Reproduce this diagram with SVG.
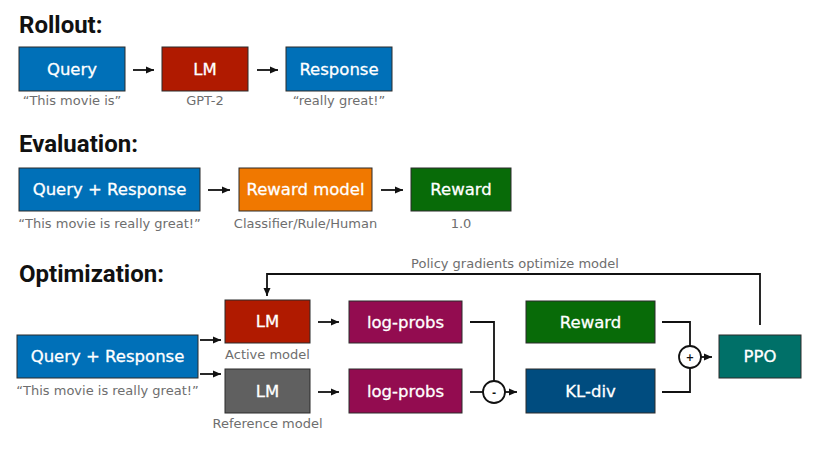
<svg xmlns="http://www.w3.org/2000/svg" width="819" height="454" viewBox="0 0 819 454">
<defs>
<style>
.title{font-family:Roboto,"Liberation Sans",sans-serif;font-weight:700;font-size:24px;fill:#111}
.box{stroke:#2b2b2b;stroke-width:1}
.nt{font-family:"DejaVu Sans",sans-serif;font-size:16.5px;fill:#fff;stroke:#fff;stroke-width:0.3;text-anchor:middle}
.sub{font-family:"DejaVu Sans",sans-serif;font-size:13px;fill:#6e6e6e;text-anchor:middle}
.ln{stroke:#111;stroke-width:1.8;fill:none}
.op{font-family:"DejaVu Sans",sans-serif;font-size:10px;font-weight:bold;fill:#111;text-anchor:middle}
</style>
<marker id="ah" markerWidth="9" markerHeight="9" refX="8" refY="4.5" orient="auto" markerUnits="userSpaceOnUse">
<path d="M0,1 L8,4.5 L0,8 z" fill="#111"/>
</marker>
</defs>
<rect width="819" height="454" fill="#fff"/>

<text class="title" x="19" y="33">Rollout:</text>
<text class="title" x="19" y="152">Evaluation:</text>
<text class="title" x="19" y="282">Optimization:</text>

<g id="rollout-query"><rect class="box" x="19" y="47" width="106" height="44" fill="#0070b8"/><text class="nt" x="72" y="75">Query</text><text class="sub" x="72" y="105">“This movie is”</text></g>
<g id="rollout-lm"><rect class="box" x="162" y="47" width="86" height="44" fill="#b01a00"/><text class="nt" x="205" y="75">LM</text><text class="sub" x="205" y="105">GPT-2</text></g>
<g id="rollout-response"><rect class="box" x="286" y="47" width="106" height="44" fill="#0070b8"/><text class="nt" x="339" y="75">Response</text><text class="sub" x="339" y="105">“really great!”</text></g>

<g id="eval-qr"><rect class="box" x="19" y="168" width="181" height="43" fill="#0070b8"/><text class="nt" x="109.5" y="195">Query + Response</text><text class="sub" x="109.5" y="228">“This movie is really great!”</text></g>
<g id="eval-rm"><rect class="box" x="239" y="168" width="133" height="43" fill="#f07800"/><text class="nt" x="305.5" y="195">Reward model</text><text class="sub" x="305.5" y="228">Classifier/Rule/Human</text></g>
<g id="eval-reward"><rect class="box" x="411" y="168" width="100" height="43" fill="#086b08"/><text class="nt" x="461" y="195">Reward</text><text class="sub" x="461" y="228">1.0</text></g>

<g id="opt-qr"><rect class="box" x="17" y="335" width="181" height="43" fill="#0070b8"/><text class="nt" x="107.5" y="362">Query + Response</text><text class="sub" x="107.5" y="395">“This movie is really great!”</text></g>
<g id="opt-lm-active"><rect class="box" x="225" y="300" width="85" height="43" fill="#b01a00"/><text class="nt" x="267.5" y="327">LM</text><text class="sub" x="267.5" y="359">Active model</text></g>
<g id="opt-lm-ref"><rect class="box" x="225" y="369" width="85" height="44" fill="#606060"/><text class="nt" x="267.5" y="397">LM</text><text class="sub" x="267.5" y="428">Reference model</text></g>
<g id="opt-logp1"><rect class="box" x="349" y="301" width="113" height="42" fill="#930c50"/><text class="nt" x="405.5" y="328">log-probs</text></g>
<g id="opt-logp2"><rect class="box" x="349" y="369" width="113" height="44" fill="#930c50"/><text class="nt" x="405.5" y="397">log-probs</text></g>
<g id="opt-reward"><rect class="box" x="526" y="301" width="129" height="42" fill="#086b08"/><text class="nt" x="590.5" y="328">Reward</text></g>
<g id="opt-kl"><rect class="box" x="526" y="369" width="129" height="44" fill="#004c7f"/><text class="nt" x="590.5" y="397">KL-div</text></g>
<g id="opt-ppo"><rect class="box" x="719" y="335" width="82" height="43" fill="#007068"/><text class="nt" x="760" y="362">PPO</text></g>
<g id="opt-minus"><circle cx="494" cy="392" r="11" fill="#fff" stroke="#111" stroke-width="1.8"/><text class="op" x="494" y="396">-</text></g>
<g id="opt-plus"><circle cx="690" cy="357" r="11" fill="#fff" stroke="#111" stroke-width="1.8"/><text class="op" x="690" y="361">+</text></g>

<g id="connectors">
<line class="ln" x1="133" y1="70" x2="154" y2="70" marker-end="url(#ah)"/>
<line class="ln" x1="257" y1="70" x2="278" y2="70" marker-end="url(#ah)"/>
<line class="ln" x1="208" y1="190" x2="230" y2="190" marker-end="url(#ah)"/>
<line class="ln" x1="381" y1="190" x2="403" y2="190" marker-end="url(#ah)"/>
<line class="ln" x1="200" y1="340" x2="221" y2="340" marker-end="url(#ah)"/>
<line class="ln" x1="200" y1="374" x2="221" y2="374" marker-end="url(#ah)"/>
<line class="ln" x1="318" y1="322" x2="339" y2="322" marker-end="url(#ah)"/>
<line class="ln" x1="318" y1="392" x2="339" y2="392" marker-end="url(#ah)"/>
<polyline class="ln" points="470,322 494,322 494,381"/>
<line class="ln" x1="470" y1="392" x2="483" y2="392"/>
<line class="ln" x1="505" y1="392" x2="517" y2="392" marker-end="url(#ah)"/>
<polyline class="ln" points="662,322 690,322 690,346"/>
<polyline class="ln" points="662,392 690,392 690,368"/>
<line class="ln" x1="701" y1="357" x2="712" y2="357" marker-end="url(#ah)"/>
<polyline class="ln" points="760,325 760,274 267,274 267,296" marker-end="url(#ah)"/>
<text class="sub" x="515" y="268">Policy gradients optimize model</text>
</g>
</svg>
